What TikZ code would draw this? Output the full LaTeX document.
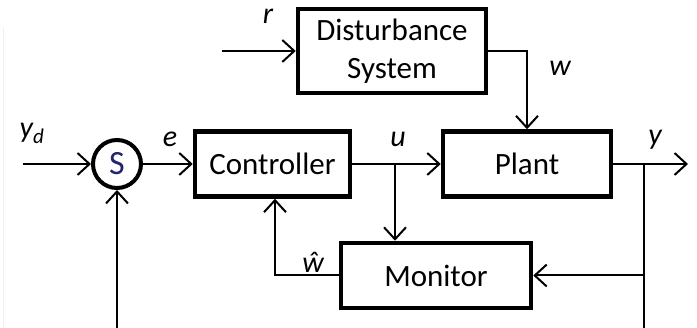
\documentclass[tikz,border=0pt]{standalone}
\usepackage{fontspec}
\setmainfont{Carlito}
\usetikzlibrary{arrows.meta,calc}
\definecolor{sumnavy}{RGB}{35,35,110}
\begin{document}
\begin{tikzpicture}[x=1pt,y=-1pt,
  box/.style={draw, line width=4.5pt, rectangle, inner sep=0pt,
    font=\fontsize{31}{38}\selectfont, align=center},
  wire/.style={line width=2pt},
  arr/.style={wire, -{Straight Barb[length=12pt,width=22pt,line width=2pt]}},
  lbl/.style={font=\fontsize{30}{34}\selectfont\itshape, inner sep=0pt}]
\useasboundingbox (0,0) rectangle (697,328);
% faint frame edge on the left
\draw[gray!12, line width=1pt] (3,27) -- (3,328);

% blocks
\node[box, minimum width=188pt, minimum height=84pt] (dist) at (392,51) {Disturbance\\System};
\node[box, minimum width=155pt, minimum height=65pt] (ctrl) at (272.5,164) {Controller};
\node[box, minimum width=168pt, minimum height=65pt] (plant) at (527,164) {Plant};
\node[box, minimum width=190pt, minimum height=65pt] (mon) at (436,275.5) {Monitor};
\node[draw, circle, line width=4pt, minimum size=48pt, inner sep=0pt,
  text=sumnavy, font=\fontsize{34}{34}\selectfont] (S) at (117,164) {S};

% free ends
\coordinate (yd) at (23,164);
\coordinate (rin) at (222,51);
\coordinate (ub) at (395,164);
\coordinate (yout) at (688,164);
\coordinate (ytap) at (644,164);
\coordinate (ybot) at (644,328);
\coordinate (fb) at (117,328);
\coordinate (wh) at (275,275.5);

% signal flow
\draw[arr] (yd) -- (S);
\draw[arr] (S) -- (ctrl);
\draw[arr] (ctrl) -- (plant);
\draw[arr] (ub) -- (ub |- mon.north);
\draw[arr] (rin) -- (dist);
\draw[arr] (dist.east) -| (plant.north);
\draw[arr] (plant) -- (yout);
\draw[wire] (ytap) -- (ybot);
\draw[arr] (ytap |- mon.east) -- (mon.east);
\draw[arr] (fb) -- (S);
\draw[arr] (mon.west) -- (wh) -- (wh |- ctrl.south);

% signal labels
\node[lbl] (lyd) at (32,133) {y\textsubscript{d}};
\node[lbl] (le) at (170,139) {e};
\node[lbl] (lu) at (398,139) {u};
\node[lbl] (lr) at (268,16) {r};
\node[lbl] (lw) at (560,68) {w};
\node[lbl] (ly) at (655,140) {y};
\node[lbl] (lwh) at (313,262) {ŵ};
\end{tikzpicture}
\end{document}
